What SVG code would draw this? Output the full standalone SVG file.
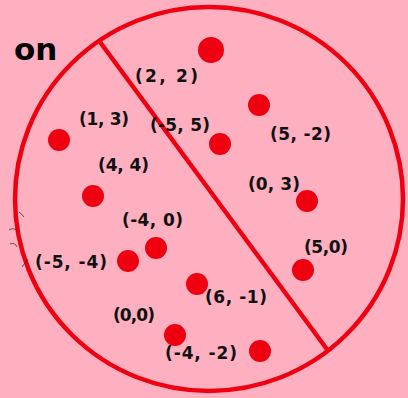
<svg xmlns="http://www.w3.org/2000/svg" width="408" height="398" viewBox="0 0 408 398">
<style>
.lbl{font-family:"DejaVu Sans","Liberation Sans",sans-serif;font-weight:bold;font-size:17px;fill:#111}
.dot{fill:#EE0010}
.ln{fill:none;stroke:#EE0010;stroke-width:4.5}
.sq{fill:none;stroke:#333;stroke-width:0.8}
</style>
<rect width="408" height="398" fill="#FFB0C0"/>
<text x="14" y="60" font-family="DejaVu Sans, sans-serif" font-weight="bold" font-size="31" fill="#000">on</text>
<g id="connectors">
<ellipse class="ln" cx="209" cy="199" rx="194" ry="192"/>
<line class="ln" x1="100" y1="42" x2="329" y2="352"/>
<path class="sq" d="M19,212 q3,2 5,5 M9,230 q5,-3 8,1 M10,244 q5,-2 7,3 M22,267 l6,-8"/>
</g>
<g id="n1"><circle class="dot" cx="211" cy="50" r="13"/><text class="lbl" x="135" y="82" font-size="20" textLength="63">(2, 2)</text></g>
<g id="n2"><circle class="dot" cx="59" cy="140" r="11"/><text class="lbl" x="79" y="125" textLength="50">(1, 3)</text></g>
<g id="n3"><circle class="dot" cx="220" cy="144" r="11"/><text class="lbl" x="150" y="131" textLength="60">(-5, 5)</text></g>
<g id="n4"><circle class="dot" cx="259" cy="105" r="11"/><text class="lbl" x="270" y="140" textLength="61">(5, -2)</text></g>
<g id="n5"><circle class="dot" cx="93" cy="196" r="11"/><text class="lbl" x="98" y="171" textLength="51">(4, 4)</text></g>
<g id="n6"><circle class="dot" cx="307" cy="201" r="11"/><text class="lbl" x="248" y="190" textLength="52">(0, 3)</text></g>
<g id="n7"><circle class="dot" cx="156" cy="248" r="11"/><text class="lbl" x="122" y="226" textLength="61">(-4, 0)</text></g>
<g id="n8"><circle class="dot" cx="128" cy="261" r="11"/><text class="lbl" x="35" y="268" textLength="72">(-5, -4)</text></g>
<g id="n9"><circle class="dot" cx="303" cy="270" r="11"/><text class="lbl" x="304" y="253" textLength="44">(5,0)</text></g>
<g id="n10"><circle class="dot" cx="197" cy="284" r="11"/><text class="lbl" x="205" y="303" textLength="62">(6, -1)</text></g>
<g id="n11"><circle class="dot" cx="175" cy="335" r="11"/><text class="lbl" x="113" y="321" textLength="42">(0,0)</text></g>
<g id="n12"><circle class="dot" cx="260" cy="351" r="11"/><text class="lbl" x="165" y="359" textLength="72">(-4, -2)</text></g>
</svg>
